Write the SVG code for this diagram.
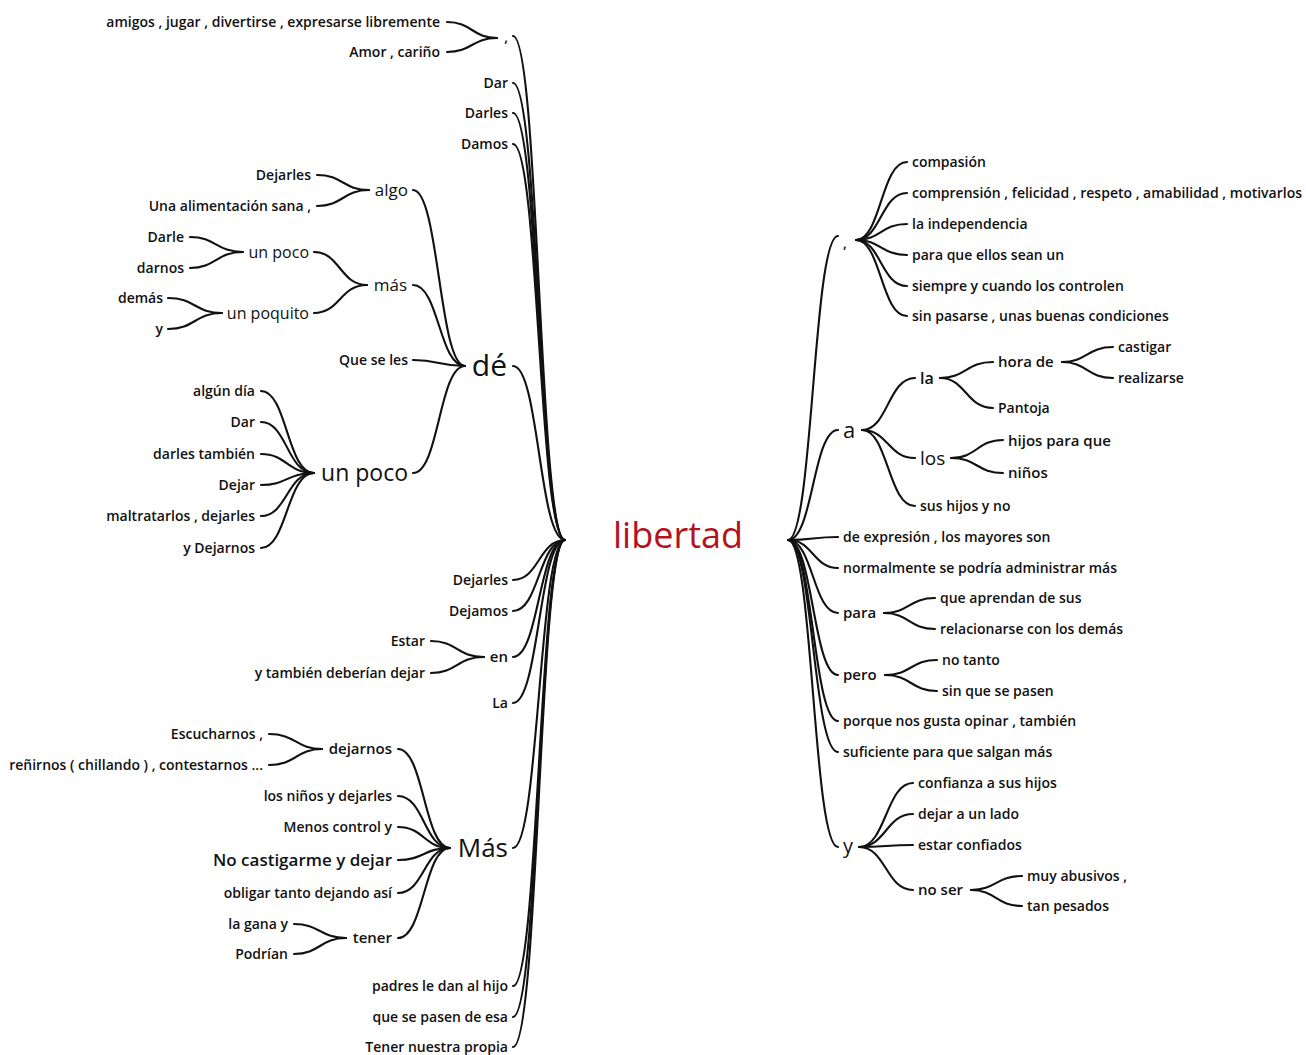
<svg xmlns="http://www.w3.org/2000/svg" width="1306" height="1055" viewBox="0 0 1306 1055">
<style>
.t{font-family:"Open Sans","Noto Sans",sans-serif;font-weight:600;font-size:14px;fill:#111}
.e{text-anchor:end}
.c path{fill:none;stroke:#111;stroke-width:2.1;stroke-linecap:round}
.root{font-family:"Open Sans","Noto Sans",sans-serif;font-size:36px;fill:#b3121c;text-anchor:middle}
</style>
<rect width="1306" height="1055" fill="#fff"/>
<g class="c" id="connectors">
<path d="M513 36 C539 36 539 540 565 540"/>
<path d="M513 83 C539 83 539 540 565 540"/>
<path d="M513 113 C539 113 539 540 565 540"/>
<path d="M513 144 C539 144 539 540 565 540"/>
<path d="M513 366 C539 366 539 540 565 540"/>
<path d="M513 580 C539 580 539 540 565 540"/>
<path d="M513 611 C539 611 539 540 565 540"/>
<path d="M513 657 C539 657 539 540 565 540"/>
<path d="M513 703 C539 703 539 540 565 540"/>
<path d="M513 848 C539 848 539 540 565 540"/>
<path d="M513 986 C539 986 539 540 565 540"/>
<path d="M513 1017 C539 1017 539 540 565 540"/>
<path d="M513 1047 C539 1047 539 540 565 540"/>
<path d="M447 22 C472 22 472 38 497 38"/>
<path d="M447 52 C472 52 472 38 497 38"/>
<path d="M413 190 C439 190 439 366 465 366"/>
<path d="M413 285 C439 285 439 366 465 366"/>
<path d="M413 360 C439 360 439 366 465 366"/>
<path d="M413 473 C439 473 439 366 465 366"/>
<path d="M317 175 C343 175 343 190 369 190"/>
<path d="M317 206 C343 206 343 190 369 190"/>
<path d="M314 252 C340 252 340 285 367 285"/>
<path d="M314 313 C340 313 340 285 367 285"/>
<path d="M190 237 C216 237 216 252 243 252"/>
<path d="M190 268 C216 268 216 252 243 252"/>
<path d="M168 298 C195 298 195 313 222 313"/>
<path d="M168 329 C195 329 195 313 222 313"/>
<path d="M261 391 C287 391 287 473 314 473"/>
<path d="M261 422 C287 422 287 473 314 473"/>
<path d="M261 454 C287 454 287 473 314 473"/>
<path d="M261 485 C287 485 287 473 314 473"/>
<path d="M261 516 C287 516 287 473 314 473"/>
<path d="M261 548 C287 548 287 473 314 473"/>
<path d="M431 641 C457 641 457 657 484 657"/>
<path d="M431 673 C457 673 457 657 484 657"/>
<path d="M398 749 C424 749 424 848 450 848"/>
<path d="M398 796 C424 796 424 848 450 848"/>
<path d="M398 827 C424 827 424 848 450 848"/>
<path d="M398 860 C424 860 424 848 450 848"/>
<path d="M398 893 C424 893 424 848 450 848"/>
<path d="M398 938 C424 938 424 848 450 848"/>
<path d="M269 734 C296 734 296 749 322 749"/>
<path d="M269 765 C296 765 296 749 322 749"/>
<path d="M294 924 C320 924 320 938 346 938"/>
<path d="M294 954 C320 954 320 938 346 938"/>
<path d="M788 540 C813 540 813 236 838 236"/>
<path d="M788 540 C813 540 813 430 838 430"/>
<path d="M788 540 C813 540 813 537 838 537"/>
<path d="M788 540 C813 540 813 568 838 568"/>
<path d="M788 540 C813 540 813 613 838 613"/>
<path d="M788 540 C813 540 813 675 838 675"/>
<path d="M788 540 C813 540 813 721 838 721"/>
<path d="M788 540 C813 540 813 752 838 752"/>
<path d="M788 540 C813 540 813 847 838 847"/>
<path d="M856 240 C881 240 881 162 907 162"/>
<path d="M856 240 C881 240 881 193 907 193"/>
<path d="M856 240 C881 240 881 224 907 224"/>
<path d="M856 240 C881 240 881 255 907 255"/>
<path d="M856 240 C881 240 881 286 907 286"/>
<path d="M856 240 C881 240 881 316 907 316"/>
<path d="M862 430 C888 430 888 378 915 378"/>
<path d="M862 430 C888 430 888 458 915 458"/>
<path d="M862 430 C888 430 888 506 915 506"/>
<path d="M940 378 C966 378 966 362 993 362"/>
<path d="M940 378 C966 378 966 408 993 408"/>
<path d="M1062 362 C1087 362 1087 347 1113 347"/>
<path d="M1062 362 C1087 362 1087 378 1113 378"/>
<path d="M951 458 C977 458 977 440 1003 440"/>
<path d="M951 458 C977 458 977 473 1003 473"/>
<path d="M884 613 C909 613 909 598 935 598"/>
<path d="M884 613 C909 613 909 629 935 629"/>
<path d="M885 675 C911 675 911 660 937 660"/>
<path d="M885 675 C911 675 911 691 937 691"/>
<path d="M859 847 C886 847 886 783 913 783"/>
<path d="M859 847 C886 847 886 814 913 814"/>
<path d="M859 847 C886 847 886 845 913 845"/>
<path d="M859 847 C886 847 886 890 913 890"/>
<path d="M971 890 C996 890 996 876 1022 876"/>
<path d="M971 890 C996 890 996 906 1022 906"/>
</g>

<g id="n-root"><text class="root" x="678" y="548">libertad</text></g>

<g id="n-lcomma"><text class="t e" x="508" y="42">,</text></g>
<g id="n-amigos"><text class="t e" x="440" y="27">amigos , jugar , divertirse , expresarse libremente</text></g>
<g id="n-amor"><text class="t e" x="440" y="57">Amor , cariño</text></g>
<g id="n-dar1"><text class="t e" x="508" y="88">Dar</text></g>
<g id="n-darles1"><text class="t e" x="508" y="118">Darles</text></g>
<g id="n-damos"><text class="t e" x="508" y="149">Damos</text></g>
<g id="n-de"><text class="t e" x="507" y="376" style="font-size:30px;font-weight:500">dé</text></g>
<g id="n-algo"><text class="t e" x="408" y="196" style="font-size:17px;font-weight:500">algo</text></g>
<g id="n-dejarles2"><text class="t e" x="311" y="180">Dejarles</text></g>
<g id="n-alimentacion"><text class="t e" x="311" y="211">Una alimentación sana ,</text></g>
<g id="n-mas"><text class="t e" x="407" y="291" style="font-size:17px;font-weight:500">más</text></g>
<g id="n-unpoco1"><text class="t e" x="309" y="258" style="font-size:16px;font-weight:500">un poco</text></g>
<g id="n-darle"><text class="t e" x="184" y="242">Darle</text></g>
<g id="n-darnos"><text class="t e" x="184" y="273">darnos</text></g>
<g id="n-unpoquito"><text class="t e" x="309" y="319" style="font-size:16px;font-weight:500">un poquito</text></g>
<g id="n-demas"><text class="t e" x="163" y="303">demás</text></g>
<g id="n-y1"><text class="t e" x="163" y="334">y</text></g>
<g id="n-queseles"><text class="t e" x="408" y="365">Que se les</text></g>
<g id="n-unpoco2"><text class="t e" x="408" y="481" style="font-size:23px;font-weight:500">un poco</text></g>
<g id="n-algundia"><text class="t e" x="255" y="396">algún día</text></g>
<g id="n-dar2"><text class="t e" x="255" y="427">Dar</text></g>
<g id="n-darlestambien"><text class="t e" x="255" y="459">darles también</text></g>
<g id="n-dejar"><text class="t e" x="255" y="490">Dejar</text></g>
<g id="n-maltratarlos"><text class="t e" x="255" y="521">maltratarlos , dejarles</text></g>
<g id="n-ydejarnos"><text class="t e" x="255" y="553">y Dejarnos</text></g>
<g id="n-dejarles3"><text class="t e" x="508" y="585">Dejarles</text></g>
<g id="n-dejamos"><text class="t e" x="508" y="616">Dejamos</text></g>
<g id="n-en"><text class="t e" x="508" y="662" style="font-size:15px">en</text></g>
<g id="n-estar"><text class="t e" x="425" y="646">Estar</text></g>
<g id="n-ytambien"><text class="t e" x="425" y="678">y también deberían dejar</text></g>
<g id="n-la1"><text class="t e" x="508" y="708">La</text></g>
<g id="n-Mas"><text class="t e" x="508" y="857" style="font-size:26px;font-weight:500">Más</text></g>
<g id="n-dejarnos"><text class="t e" x="392" y="754" style="font-size:15px">dejarnos</text></g>
<g id="n-escucharnos"><text class="t e" x="263" y="739">Escucharnos ,</text></g>
<g id="n-renirnos"><text class="t e" x="263" y="770">reñirnos ( chillando ) , contestarnos ...</text></g>
<g id="n-losninos"><text class="t e" x="392" y="801">los niños y dejarles</text></g>
<g id="n-menos"><text class="t e" x="392" y="832">Menos control y</text></g>
<g id="n-nocastigarme"><text class="t e" x="392" y="866" style="font-size:17px">No castigarme y dejar</text></g>
<g id="n-obligar"><text class="t e" x="392" y="898">obligar tanto dejando así</text></g>
<g id="n-tener"><text class="t e" x="392" y="943" style="font-size:15px">tener</text></g>
<g id="n-lagana"><text class="t e" x="288" y="929">la gana y</text></g>
<g id="n-podrian"><text class="t e" x="288" y="959">Podrían</text></g>
<g id="n-padres"><text class="t e" x="508" y="991">padres le dan al hijo</text></g>
<g id="n-quesepasen"><text class="t e" x="508" y="1022">que se pasen de esa</text></g>
<g id="n-tener2"><text class="t e" x="508" y="1052">Tener nuestra propia</text></g>

<g id="n-rcomma"><text class="t" x="843" y="248">,</text></g>
<g id="n-compasion"><text class="t" x="912" y="167">compasión</text></g>
<g id="n-comprension"><text class="t" x="912" y="198">comprensión , felicidad , respeto , amabilidad , motivarlos</text></g>
<g id="n-independencia"><text class="t" x="912" y="229">la independencia</text></g>
<g id="n-paraque"><text class="t" x="912" y="260">para que ellos sean un</text></g>
<g id="n-siempre"><text class="t" x="912" y="291">siempre y cuando los controlen</text></g>
<g id="n-sinpasarse"><text class="t" x="912" y="321">sin pasarse , unas buenas condiciones</text></g>
<g id="n-a"><text class="t" x="843" y="438" style="font-size:22px;font-weight:500">a</text></g>
<g id="n-la"><text class="t" x="920" y="384" style="font-size:16px">la</text></g>
<g id="n-horade"><text class="t" x="998" y="367" style="font-size:15px">hora de</text></g>
<g id="n-castigar"><text class="t" x="1118" y="352">castigar</text></g>
<g id="n-realizarse"><text class="t" x="1118" y="383">realizarse</text></g>
<g id="n-pantoja"><text class="t" x="998" y="413">Pantoja</text></g>
<g id="n-los"><text class="t" x="920" y="465" style="font-size:19px;font-weight:500">los</text></g>
<g id="n-hijospara"><text class="t" x="1008" y="446" style="font-size:15px">hijos para que</text></g>
<g id="n-ninos"><text class="t" x="1008" y="478" style="font-size:15px">niños</text></g>
<g id="n-sushijos"><text class="t" x="920" y="511">sus hijos y no</text></g>
<g id="n-expresion"><text class="t" x="843" y="542">de expresión , los mayores son</text></g>
<g id="n-normalmente"><text class="t" x="843" y="573">normalmente se podría administrar más</text></g>
<g id="n-para"><text class="t" x="843" y="618" style="font-size:15px">para</text></g>
<g id="n-aprendan"><text class="t" x="940" y="603">que aprendan de sus</text></g>
<g id="n-relacionarse"><text class="t" x="940" y="634">relacionarse con los demás</text></g>
<g id="n-pero"><text class="t" x="843" y="680" style="font-size:15px">pero</text></g>
<g id="n-notanto"><text class="t" x="942" y="665">no tanto</text></g>
<g id="n-sinque"><text class="t" x="942" y="696">sin que se pasen</text></g>
<g id="n-porque"><text class="t" x="843" y="726">porque nos gusta opinar , también</text></g>
<g id="n-suficiente"><text class="t" x="843" y="757">suficiente para que salgan más</text></g>
<g id="n-y"><text class="t" x="843" y="853" style="font-size:20px;font-weight:500">y</text></g>
<g id="n-confianza"><text class="t" x="918" y="788">confianza a sus hijos</text></g>
<g id="n-dejarlado"><text class="t" x="918" y="819">dejar a un lado</text></g>
<g id="n-confiados"><text class="t" x="918" y="850">estar confiados</text></g>
<g id="n-noser"><text class="t" x="918" y="895" style="font-size:15px">no ser</text></g>
<g id="n-abusivos"><text class="t" x="1027" y="881">muy abusivos ,</text></g>
<g id="n-pesados"><text class="t" x="1027" y="911">tan pesados</text></g>
</svg>
